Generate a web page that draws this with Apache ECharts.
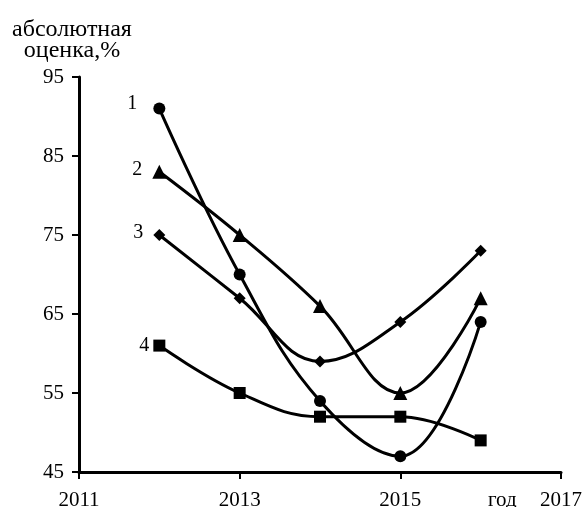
<!DOCTYPE html>
<html>
<head>
<meta charset="utf-8">
<script src="https://cdn.jsdelivr.net/npm/echarts@6/dist/echarts.min.js"></script>
<style>
html,body{margin:0;padding:0;background:#fff;}
#main{width:584px;height:507px;}
</style>
</head>
<body>
<div id="main"></div>
<script>
// Data
const years = [2012, 2013, 2014, 2015, 2016];
const seriesNames = ['1', '2', '3', '4'];
const s1 = [91, 70, 54, 47, 64];
const s2 = [83, 75, 66, 55, 67];
const s3 = [75, 67, 59, 64, 73];
const s4 = [61, 55, 52, 52, 49];
const yTicks = [45, 55, 65, 75, 85, 95];
const xTicks = [2011, 2013, 2015, 2017];
const xAxisName = 'год';
const yAxisName = 'абсолютная\nоценка,%';

const FONT = 'Liberation Serif';
const NAME_POS = 2016.27;

const values = [s1, s2, s3, s4];
const symbols = ['circle', 'triangle', 'diamond', 'rect'];
const symbolSizes = [12, 14, 12, 12];
const labelDist = [16, 10, 10, 4];
const labelOffset = [[0, -5], [0, -2], [0, -2], [0, 0]];

const chart = echarts.init(document.getElementById('main'), null, {renderer: 'canvas'});

const series = values.map((vals, i) => ({
  name: seriesNames[i],
  type: 'line',
  smooth: 0.4,
  data: years.map((y, j) => [y, vals[j]]),
  symbol: symbols[i],
  symbolSize: symbolSizes[i],
  showAllSymbol: true,
  lineStyle: {color: '#000', width: 3},
  itemStyle: {color: '#000'},
  label: {
    show: true,
    position: 'left',
    distance: labelDist[i],
    offset: labelOffset[i],
    color: '#000',
    fontFamily: FONT,
    fontSize: 20,
    formatter: p => p.dataIndex === 0 ? p.seriesName : ''
  },
  emphasis: {disabled: true},
  animation: false
}));

chart.setOption({
  backgroundColor: '#fff',
  animation: false,
  title: {
    text: yAxisName,
    left: 67,
    top: 14,
    textAlign: 'center',
    textStyle: {fontFamily: FONT, fontSize: 24, fontWeight: 'normal', color: '#000', lineHeight: 21}
  },
  grid: {left: 79, right: 23, top: 77, bottom: 35, containLabel: false, outerBoundsMode: 'none'},
  xAxis: {
    type: 'value',
    min: 2011,
    max: 2017,
    interval: 1,
    axisLine: {show: true, onZero: false, lineStyle: {color: '#000', width: 3}},
    axisTick: {show: true, length: 7, customValues: xTicks, lineStyle: {color: '#000', width: 2}},
    axisLabel: {
      customValues: xTicks.concat([NAME_POS]),
      margin: 18,
      color: '#000',
      fontFamily: FONT,
      fontSize: 21,
      formatter: v => (v === NAME_POS ? xAxisName : String(v))
    },
    splitLine: {show: false}
  },
  yAxis: {
    type: 'value',
    min: 45,
    max: 95,
    interval: 10,
    axisLine: {show: true, lineStyle: {color: '#000', width: 3}},
    axisTick: {show: true, length: 7, customValues: yTicks, lineStyle: {color: '#000', width: 2}},
    axisLabel: {
      customValues: yTicks,
      margin: 15,
      color: '#000',
      fontFamily: FONT,
      fontSize: 21
    },
    splitLine: {show: false}
  },
  series: series
});
</script>
</body>
</html>
